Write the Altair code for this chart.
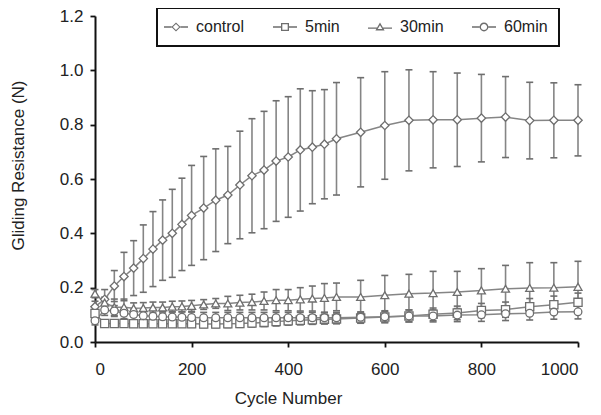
import altair as alt
import pandas as pd

cycles = [0, 20, 40, 60, 80, 100, 120, 140, 160, 180, 200, 225, 250, 275, 300, 325, 350,
          375, 400, 425, 450, 475, 500, 550, 600, 650, 700, 750, 800, 850, 900, 950, 1000]

series_names = ["control", "5min", "30min", "60min"]

control_mean = [0.13, 0.157, 0.206, 0.241, 0.272, 0.307, 0.342, 0.375, 0.400, 0.433, 0.466,
                0.493, 0.522, 0.541, 0.578, 0.612, 0.633, 0.666, 0.681, 0.707, 0.717, 0.728,
                0.748, 0.772, 0.797, 0.816, 0.818, 0.818, 0.824, 0.828, 0.815, 0.816, 0.816]
control_sd = [0.02, 0.036, 0.057, 0.089, 0.101, 0.124, 0.138, 0.148, 0.162, 0.170, 0.184,
              0.190, 0.189, 0.179, 0.198, 0.210, 0.216, 0.222, 0.222, 0.225, 0.208, 0.201,
              0.207, 0.201, 0.198, 0.186, 0.177, 0.172, 0.161, 0.149, 0.141, 0.138, 0.131]

min5_mean = [0.105, 0.068, 0.068, 0.068, 0.067, 0.067, 0.067, 0.067, 0.067, 0.067, 0.067,
             0.066, 0.066, 0.067, 0.068, 0.070, 0.072, 0.075, 0.078, 0.080, 0.082, 0.084,
             0.085, 0.088, 0.092, 0.096, 0.102, 0.107, 0.116, 0.119, 0.130, 0.137, 0.146]
min5_sd = [0.015, 0.012, 0.012, 0.012, 0.012, 0.012, 0.012, 0.012, 0.012, 0.012, 0.013,
           0.013, 0.013, 0.014, 0.014, 0.015, 0.015, 0.016, 0.016, 0.017, 0.017, 0.018,
           0.018, 0.019, 0.020, 0.022, 0.023, 0.025, 0.026, 0.028, 0.030, 0.032, 0.034]

min30_mean = [0.178, 0.145, 0.128, 0.128, 0.124, 0.125, 0.127, 0.127, 0.130, 0.131, 0.133,
              0.138, 0.142, 0.142, 0.145, 0.147, 0.151, 0.154, 0.154, 0.157, 0.160, 0.162,
              0.166, 0.166, 0.172, 0.178, 0.180, 0.184, 0.190, 0.196, 0.199, 0.200, 0.203]
min30_sd = [0.015, 0.02, 0.03, 0.03, 0.02, 0.02, 0.02, 0.02, 0.02, 0.02, 0.02,
            0.018, 0.018, 0.026, 0.027, 0.029, 0.033, 0.039, 0.039, 0.043, 0.046, 0.053,
            0.051, 0.061, 0.073, 0.071, 0.080, 0.076, 0.080, 0.086, 0.093, 0.092, 0.094]

min60_mean = [0.078, 0.118, 0.114, 0.106, 0.101, 0.097, 0.095, 0.093, 0.092, 0.091, 0.090,
              0.089, 0.089, 0.089, 0.089, 0.089, 0.089, 0.089, 0.089, 0.089, 0.089, 0.089,
              0.089, 0.091, 0.093, 0.096, 0.096, 0.099, 0.100, 0.104, 0.106, 0.110, 0.111]
min60_sd = [0.015, 0.02, 0.02, 0.02, 0.02, 0.02, 0.02, 0.02, 0.02, 0.02, 0.02,
            0.02, 0.02, 0.02, 0.02, 0.02, 0.02, 0.02, 0.02, 0.02, 0.02, 0.02,
            0.02, 0.02, 0.022, 0.022, 0.022, 0.024, 0.024, 0.025, 0.025, 0.026, 0.026]

means = [control_mean, min5_mean, min30_mean, min60_mean]
sds = [control_sd, min5_sd, min30_sd, min60_sd]

rows = []
for k, name in enumerate(series_names):
    for c, m, s in zip(cycles, means[k], sds[k]):
        rows.append({"series": name, "order": k, "cycle": c, "mean": m,
                     "lo": m - s, "hi": m + s})
df = pd.DataFrame(rows)

GRAY = "#858585"
MARK = "#6e6e6e"
FONT = "Liberation Sans"
TXT = "#222222"

x_enc = alt.X("cycle:Q", scale=alt.Scale(domain=[0, 1000], nice=False),
              axis=alt.Axis(values=[0, 200, 400, 600, 800, 1000], format="d",
                            title="Cycle Number", labelPadding=14,
                            titleX=193, titleY=56, titleAlign="center", titleBaseline="middle"))
y_enc = alt.Y("mean:Q", scale=alt.Scale(domain=[0, 1.2], nice=False),
              axis=alt.Axis(values=[0, 0.2, 0.4, 0.6, 0.8, 1.0, 1.2], format=".1f",
                            title="Gliding Resistance (N)", labelPadding=7,
                            titleX=-77, titleY=149,
                            titleAlign="center", titleBaseline="middle", titleAngle=-90))

base = alt.Chart(df)

bars = base.mark_rule(color=GRAY, strokeWidth=1.6).encode(
    x=x_enc, y=alt.Y("lo:Q"), y2="hi:Q", detail="series:N")
cap_hi = base.mark_rule(color=MARK, strokeWidth=1.6, xOffset=-3.5, x2Offset=3.5).encode(
    x=x_enc, x2="cycle:Q", y=alt.Y("hi:Q"))
cap_lo = base.mark_rule(color=MARK, strokeWidth=1.6, xOffset=-3.5, x2Offset=3.5).encode(
    x=x_enc, x2="cycle:Q", y=alt.Y("lo:Q"))

lines = base.mark_line(color=GRAY, strokeWidth=1.5).encode(
    x=x_enc, y=y_enc, detail="series:N", order="cycle:Q")

points = base.mark_point(filled=False, fill="white", stroke=MARK, strokeWidth=1.3,
                         opacity=1, fillOpacity=1).encode(
    x=x_enc, y=y_enc,
    shape=alt.Shape("series:N", scale=alt.Scale(domain=series_names,
                    range=["diamond", "square", "triangle-up", "circle"]), legend=None),
    size=alt.Size("series:N", scale=alt.Scale(domain=series_names, range=[70, 60, 70, 85]),
                  legend=None),
    order="order:Q")

# legend glyphs: outlined symbols with short dashes on both sides (filled outlines)
legend_paths = [
    "M-3,-0.16H-1.1V0.16H-3Z M1.1,-0.16H3V0.16H1.1Z "
    "M0,-1.15L1.15,0L0,1.15L-1.15,0Z M0,-0.78L-0.78,0L0,0.78L0.78,0Z",
    "M-3,-0.16H-1V0.16H-3Z M1,-0.16H3V0.16H1Z "
    "M-1,-1H1V1H-1Z M-0.67,-0.67V0.67H0.67V-0.67Z",
    "M-3,0.1H-0.75V0.42H-3Z M0.75,0.1H3V0.42H0.75Z "
    "M0,-1.1L1.15,0.85H-1.15Z M0,-0.45L-0.57,0.52H0.57Z",
    "M-3,-0.16H-1.1V0.16H-3Z M1.1,-0.16H3V0.16H1.1Z "
    "M-1.1,0A1.1,1.1 0 1,1 1.1,0A1.1,1.1 0 1,1 -1.1,0Z "
    "M-0.77,0A0.77,0.77 0 1,0 0.77,0A0.77,0.77 0 1,0 -0.77,0Z",
]

legend_layer = base.transform_calculate(series2="datum.series").mark_point(
    filled=True, color=MARK, opacity=0).encode(
    x=x_enc, y=y_enc,
    shape=alt.Shape("series2:N", scale=alt.Scale(domain=series_names, range=legend_paths),
                    legend=alt.Legend(title=None, orient="none", direction="horizontal",
                                      legendX=62, legendY=-8, padding=11,
                                      columnPadding=25, labelOffset=12,
                                      symbolSize=64, symbolOpacity=1,
                                      labelFont=FONT, labelFontSize=16, labelColor=TXT,
                                      strokeColor="#111111", fillColor="white"))
)

chart = alt.layer(bars, cap_hi, cap_lo, lines, points, legend_layer).resolve_scale(
    shape="independent"
).properties(
    width=483, height=326,
    autosize=alt.AutoSizeParams(type="none"),
    padding={"left": 87, "top": 8, "right": 10, "bottom": 70},
).configure_view(stroke=None).configure_axis(
    domainColor="#111111", domainWidth=2, tickColor="#111111", tickWidth=1.8, tickSize=5,
    grid=False, labelFont=FONT, labelFontSize=17, labelColor=TXT,
    titleFont=FONT, titleFontSize=17, titleFontWeight="normal", titleColor=TXT,
).configure_legend(strokeWidth=2)

chart.save("out.html", embed_options={"renderer": "svg", "actions": False})
